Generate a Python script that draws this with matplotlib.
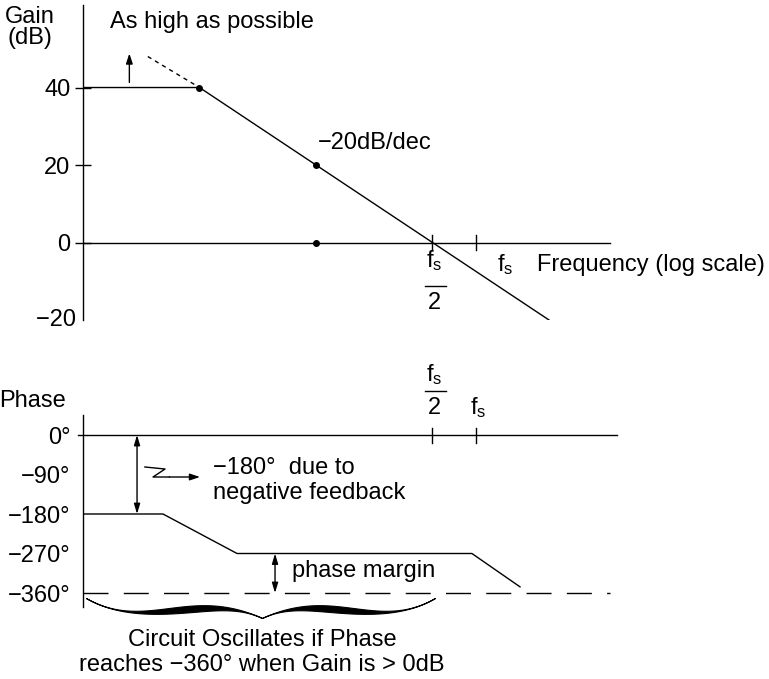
import numpy as np
import matplotlib
matplotlib.use("Agg")
import matplotlib.pyplot as plt

plt.rcParams['font.family'] = ['Liberation Sans', 'DejaVu Sans']
plt.rcParams['mathtext.fontset'] = 'custom'
plt.rcParams['mathtext.rm'] = 'Liberation Sans'
plt.rcParams['mathtext.it'] = 'Liberation Sans'

# frequency in units of fs/2 (log scale)
fs_half = 1.0
fs = 2.36

# gain plot
gain_f = [0.001, 0.01, 10]
gain_db = [40, 40, -20]
gain_ext_f = [0.0036, 0.01]
gain_ext_db = [48, 40]
dot_f = [0.01, 0.1, 0.1]
dot_db = [40, 20, 0]
gain_ticks = [0, 20, 40]

# phase plot
phase_f = [0.001, 0.00486, 0.021, 2.18, 5.64]
phase_deg = [-180, -180, -270, -270, -346]
phase_ticks = [0, -90, -180, -270, -360]
phase_labels = ["0°", "−90°", "−180°", "−270°", "−360°"]

W, H = 769, 679
fig = plt.figure(figsize=(W / 100, H / 100), dpi=100)

x_lo, x_hi = 0.001, 10 ** ((617 - 83) / 116.5 - 3)
fsz = 17
lw = 1.0


def axes_px(left, right, top, bottom):
    return fig.add_axes([left / W, 1 - bottom / H, (right - left) / W, (bottom - top) / H])


def db(py):
    # pixel row -> dB on the gain panel
    return (243 - py) / 3.875


def deg(py):
    # pixel row -> degrees on the phase panel
    return -(py - 435) / 0.4389


# ---------------- gain ----------------
ax = axes_px(83, 617, 5, 320)
ax.set_xscale('log')
ax.set_xlim(x_lo, x_hi)
ax.set_ylim(-20, 61.3)
for s in ['top', 'right', 'bottom']:
    ax.spines[s].set_visible(False)
ax.spines['left'].set_linewidth(lw)
ax.set_xticks([])
ax.minorticks_off()
ax.set_yticks(gain_ticks)
ax.set_yticklabels(["0", "20", "40"], fontsize=fsz)
ax.tick_params(axis='y', direction='inout', length=12, width=lw, pad=3)
ax.text(x_lo, -20, "−20 ", fontsize=fsz, va='center', ha='right', clip_on=False)
ax.patch.set_visible(False)

ax.plot([x_lo, 33.4], [0, 0], color='black', lw=lw)
ax.plot(gain_f, gain_db, color='black', lw=lw)
ax.plot(gain_ext_f, gain_ext_db, color='black', lw=lw, ls=(0, (3, 3)))
ax.plot(dot_f, dot_db, 'o', color='black', ms=4)
for xf in [fs_half, fs]:
    ax.plot([xf, xf], [-1.9, 1.9], color='black', lw=lw)

ax.annotate('', xy=(0.0025, 49.5), xytext=(0.0025, 40.6),
            arrowprops=dict(arrowstyle='-|>,head_length=0.6,head_width=0.2', color='black', lw=lw))
ax.text(0.0017, db(22), "As high as possible", fontsize=fsz, va='center', ha='left')
ax.text(0.104, db(143), "−20dB/dec", fontsize=fsz, va='center', ha='left')
ax.text(0.00035, db(17), "Gain", fontsize=fsz, va='center', ha='center', clip_on=False)
ax.text(0.00035, db(38), "(dB)", fontsize=fsz, va='center', ha='center', clip_on=False)
ax.text(7.89, db(265), "Frequency (log scale)", fontsize=fsz, va='center', ha='left', clip_on=False)
ax.text(3.58, db(265), r"f$_\mathrm{s}$", fontsize=fsz, va='center', ha='left')
ax.text(1.04, db(261), r"f$_\mathrm{s}$", fontsize=fsz, va='center', ha='center')
ax.plot([0.854, 1.3], [db(286), db(286)], color='black', lw=lw, clip_on=False)
ax.text(1.04, db(303), "2", fontsize=fsz, va='center', ha='center', clip_on=False)

# ---------------- phase ----------------
px = axes_px(83, 617, 415, 607)
px.set_xscale('log')
px.set_xlim(x_lo, x_hi)
px.set_ylim(deg(607), deg(415))
for s in ['top', 'right', 'bottom']:
    px.spines[s].set_visible(False)
px.spines['left'].set_linewidth(lw)
px.set_xticks([])
px.minorticks_off()
px.set_yticks(phase_ticks)
px.set_yticklabels(phase_labels, fontsize=fsz)
px.tick_params(axis='y', length=0, pad=9)
px.patch.set_visible(False)

px.plot([0.00091, x_hi], [0, 0], color='black', lw=lw, clip_on=False)
px.plot([x_lo, 33.4], [-360, -360], color='black', lw=lw, ls=(0, (18, 11)))
px.plot(phase_f, phase_deg, color='black', lw=lw)
for xf in [fs_half, fs]:
    px.plot([xf, xf], [16, -18], color='black', lw=lw)

# double arrows
px.annotate('', xy=(0.00291, -180), xytext=(0.00291, 0),
            arrowprops=dict(arrowstyle='<|-|>,head_length=0.6,head_width=0.18',
                            color='black', lw=lw, shrinkA=0, shrinkB=0))
px.annotate('', xy=(0.0445, -360), xytext=(0.0445, -270),
            arrowprops=dict(arrowstyle='<|-|>,head_length=0.6,head_width=0.18',
                            color='black', lw=lw, shrinkA=0, shrinkB=0))

# zig-zag pointer
px.plot([0.0034, 0.00506, 0.00399, 0.0055], [-72.9, -77.5, -95.7, -95.7], color='black', lw=lw)
px.annotate('', xy=(0.0101, -95.7), xytext=(0.0055, -95.7),
            arrowprops=dict(arrowstyle='-|>,head_length=0.6,head_width=0.2',
                            color='black', lw=lw, shrinkA=0, shrinkB=0))

px.text(0.0131, deg(468), "−180°  due to", fontsize=fsz, va='center', ha='left')
px.text(0.0131, deg(493), "negative feedback", fontsize=fsz, va='center', ha='left')
px.text(0.0622, deg(571), "phase margin", fontsize=fsz, va='center', ha='left')
px.text(0.00037, deg(401), "Phase", fontsize=fsz, va='center', ha='center', clip_on=False)

px.text(1.04, deg(375), r"f$_\mathrm{s}$", fontsize=fsz, va='center', ha='center', clip_on=False)
px.plot([0.854, 1.3], [deg(391), deg(391)], color='black', lw=lw, clip_on=False)
px.text(1.04, deg(408), "2", fontsize=fsz, va='center', ha='center', clip_on=False)
px.text(fs * 1.04, deg(408), r"f$_\mathrm{s}$", fontsize=fsz, va='center', ha='center', clip_on=False)

# brace under the dashed line
b_left, b_mid, b_right = 0.00106, 0.0344, 1.05
s = np.linspace(0, 1, 300)
yc_px = 598 + 100.6 * s - 222.9 * s ** 2 + 142.3 * s ** 3
th_px = 6.5 * np.sin(np.pi * s ** 1.3) ** 2
for a, b in [(b_left, b_mid), (b_right, b_mid)]:
    xs = 10 ** (np.log10(a) + s * (np.log10(b) - np.log10(a)))
    px.fill_between(xs, deg(yc_px - th_px / 2), deg(yc_px + th_px / 2), color='black',
                    lw=0.8, edgecolor='black', clip_on=False)

px.text(b_mid, deg(640), "Circuit Oscillates if Phase",
        fontsize=fsz, va='center', ha='center', clip_on=False)
px.text(b_mid, deg(665), "reaches −360° when Gain is > 0dB",
        fontsize=fsz, va='center', ha='center', clip_on=False)

fig.savefig("out.png", dpi=100)
